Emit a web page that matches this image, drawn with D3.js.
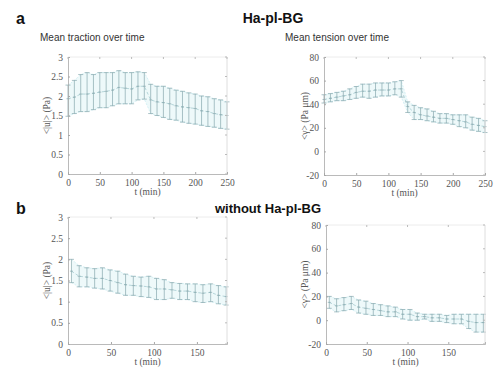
<!DOCTYPE html>
<html><head><meta charset="utf-8">
<script src="https://cdn.jsdelivr.net/npm/d3@7"></script>
<style>body{margin:0;background:#fff}svg{display:block}</style>
</head><body>
<script>
// ---- data ----
const tA = [0,10,20,30,40,50,60,70,80,90,100,110,120,130,140,150,160,170,180,190,200,210,220,230,240,250];
const tractionA_mean = [1.93,1.97,2.05,2.05,2.07,2.1,2.12,2.15,2.22,2.2,2.18,2.25,2.25,1.9,1.85,1.83,1.8,1.75,1.72,1.7,1.68,1.62,1.6,1.55,1.52,1.5];
const tractionA_up   = [2.28,2.4,2.55,2.6,2.55,2.6,2.6,2.6,2.65,2.6,2.6,2.62,2.6,2.3,2.25,2.25,2.2,2.15,2.12,2.08,2.05,2.0,1.98,1.93,1.9,1.85];
const tractionA_lo   = [1.48,1.55,1.6,1.6,1.65,1.7,1.7,1.75,1.8,1.8,1.8,1.9,1.92,1.55,1.5,1.45,1.4,1.38,1.33,1.3,1.28,1.25,1.22,1.2,1.17,1.15];
const tensionA_mean = [44,45,46,47,48,50,51,51,52,52,52,53,53,38,33,31,30,29,28,28,27,26,25,23,22,21];
const tensionA_up   = [48,49,50,51,53,55,57,57,58,58,58,59,60,42,39,37,36,34,32,32,31,31,31,29,28,26];
const tensionA_lo   = [41,42,43,43,44,45,46,45,46,47,47,48,46,33,27,27,26,25,24,24,23,21,20,18,17,16];

const tB = [4,13,22,31,40,49,58,67,76,85,94,103,112,121,130,139,148,157,166,175,184];
const tractionB_mean = [1.72,1.6,1.58,1.55,1.55,1.5,1.45,1.4,1.38,1.37,1.35,1.3,1.3,1.28,1.25,1.25,1.22,1.2,1.22,1.15,1.12];
const tractionB_up   = [2.0,1.85,1.8,1.78,1.8,1.75,1.72,1.65,1.6,1.58,1.6,1.55,1.52,1.45,1.43,1.42,1.42,1.4,1.42,1.38,1.35];
const tractionB_lo   = [1.45,1.35,1.35,1.32,1.3,1.25,1.2,1.15,1.15,1.12,1.1,1.05,1.05,1.08,1.05,1.05,1.0,0.98,1.0,0.95,0.92];
const tB2 = [4,13,22,31,40,49,58,67,76,85,94,103,112,121,130,139,148,157,166,175,184,193];
const tensionB_mean = [15,12,13,14,11,10,9,8,7,7,5,5,3,3,2,2,1,1,1,-1,-2,-2];
const tensionB_up   = [20,18,19,20,17,16,14,13,12,11,9,9,6,5,5,5,4,5,5,5,5,5];
const tensionB_lo   = [10,7,8,9,6,5,4,4,3,3,1,0,0,1,-1,-1,-2,-3,-3,-7,-10,-10];

const xTicksA = [0,50,100,150,200,250];
const xTicksB = [0,50,100,150];
const yTicksTraction = [0,0.5,1,1.5,2,2.5,3];
const yTicksTension = [-20,0,20,40,60,80];

// ---- drawing ----
const svg = d3.select("body").append("svg").attr("width",500).attr("height",377);

function panel(o){
  const g = svg.append("g");
  const x = d3.scaleLinear().domain(o.xdom).range([o.x0,o.x1]);
  const y = d3.scaleLinear().domain(o.ydom).range([o.y1,o.y0]);
  const pts = o.t.map((t,i)=>({t,m:o.m[i],u:o.u[i],l:o.l[i]}));
  // fill
  g.append("path").datum(pts)
    .attr("d", d3.area().x(d=>x(d.t)).y0(d=>y(d.l)).y1(d=>y(d.u)))
    .attr("fill","#eef9fa");
  // upper/lower lines
  ["u","l"].forEach(k=>{
    g.append("path").datum(pts)
     .attr("d", d3.line().x(d=>x(d.t)).y(d=>y(d[k])))
     .attr("fill","none").attr("stroke","#c6ebf0").attr("stroke-width",0.7).attr("stroke-dasharray","2,1.5");
  });
  // mean line
  g.append("path").datum(pts)
    .attr("d", d3.line().x(d=>x(d.t)).y(d=>y(d.m)))
    .attr("fill","none").attr("stroke","#9cc6cc").attr("stroke-width",0.7).attr("stroke-dasharray","3,2");
  // error bars
  const eb = g.append("g").attr("stroke","#86a8ad").attr("stroke-width",0.7);
  pts.forEach(d=>{
    const cx = x(d.t);
    eb.append("line").attr("x1",cx).attr("x2",cx).attr("y1",y(d.u)).attr("y2",y(d.l));
    eb.append("line").attr("x1",cx-2.5).attr("x2",cx+2.5).attr("y1",y(d.u)).attr("y2",y(d.u));
    eb.append("line").attr("x1",cx-2.5).attr("x2",cx+2.5).attr("y1",y(d.l)).attr("y2",y(d.l));
    eb.append("line").attr("x1",cx-1.5).attr("x2",cx+1.5).attr("y1",y(d.m)).attr("y2",y(d.m));
  });
  // box
  g.append("line").attr("x1",o.x0).attr("x2",o.x1).attr("y1",o.y0).attr("y2",o.y0).attr("stroke","#ececec");
  g.append("line").attr("x1",o.x1).attr("x2",o.x1).attr("y1",o.y0).attr("y2",o.y1).attr("stroke","#dedede");
  // axes
  const ax = g.append("g").attr("transform",`translate(0,${o.y1})`)
    .call(d3.axisBottom(x).tickValues(o.xticks).tickSize(-2).tickPadding(5).tickFormat(d3.format("d")));
  const ay = g.append("g").attr("transform",`translate(${o.x0},0)`)
    .call(d3.axisLeft(y).tickValues(o.yticks).tickSize(-2).tickPadding(5).tickFormat(d=>String(d)));
  [ax,ay].forEach(a=>{
    a.select(".domain").attr("stroke","#a8a8a8").attr("stroke-width",0.8);
    a.selectAll(".tick line").attr("stroke","#a8a8a8");
    a.selectAll("text").attr("font-family","Liberation Serif").attr("font-size",9.5).attr("fill","#555");
  });
  // top ticks
  o.xticks.forEach(t=>{
    g.append("line").attr("x1",x(t)).attr("x2",x(t)).attr("y1",o.y0).attr("y2",o.y0+2).attr("stroke","#bbb");
  });
  o.yticks.forEach(t=>{
    g.append("line").attr("x1",o.x1).attr("x2",o.x1-2).attr("y1",y(t)).attr("y2",y(t)).attr("stroke","#bbb");
  });
  // labels
  g.append("text").attr("x",(o.x0+o.x1)/2).attr("y",o.y1+21).attr("text-anchor","middle")
    .attr("font-family","Liberation Serif").attr("font-size",9.5).attr("fill","#555").text("t (min)");
  g.append("text").attr("transform",`translate(${o.ylx},${(o.y0+o.y1)/2}) rotate(-90)`)
    .attr("text-anchor","middle").attr("font-family","Liberation Serif").attr("font-size",9.5).attr("fill","#555").text(o.ylabel);
  if(o.title){
    g.append("text").attr("x",o.titleX).attr("y",41)
      .attr("font-family","Liberation Sans").attr("font-size",10).attr("fill","#333").text(o.title);
  }
}

panel({x0:68,x1:227,y0:57,y1:174,xdom:[0,250],ydom:[0,3],t:tA,m:tractionA_mean,u:tractionA_up,l:tractionA_lo,
  xticks:xTicksA,yticks:yTicksTraction,ylabel:"<|u|> (Pa)",ylx:50,title:"Mean traction over time",titleX:40});
panel({x0:324,x1:485,y0:57,y1:175,xdom:[0,250],ydom:[-20,80],t:tA,m:tensionA_mean,u:tensionA_up,l:tensionA_lo,
  xticks:xTicksA,yticks:yTicksTension,ylabel:"<γ> (Pa μm)",ylx:308,title:"Mean tension over time",titleX:285});
panel({x0:68,x1:227,y0:217,y1:344,xdom:[0,185],ydom:[0,3],t:tB,m:tractionB_mean,u:tractionB_up,l:tractionB_lo,
  xticks:xTicksB,yticks:yTicksTraction,ylabel:"<|u|> (Pa)",ylx:50});
panel({x0:326,x1:485,y0:225,y1:344,xdom:[0,195],ydom:[-20,80],t:tB2,m:tensionB_mean,u:tensionB_up,l:tensionB_lo,
  xticks:xTicksB,yticks:yTicksTension,ylabel:"<γ> (Pa μm)",ylx:308});

// panel letters and headings
svg.append("text").attr("x",16).attr("y",24).attr("font-family","Liberation Sans").attr("font-weight","bold").attr("font-size",16).attr("fill","#111").text("a");
svg.append("text").attr("x",16).attr("y",214).attr("font-family","Liberation Sans").attr("font-weight","bold").attr("font-size",16).attr("fill","#111").text("b");
svg.append("text").attr("x",273).attr("y",23).attr("text-anchor","middle").attr("font-family","Liberation Sans").attr("font-weight","bold").attr("font-size",14).attr("fill","#111").text("Ha-pl-BG");
svg.append("text").attr("x",268).attr("y",213).attr("text-anchor","middle").attr("font-family","Liberation Sans").attr("font-weight","bold").attr("font-size",13).attr("fill","#111").text("without Ha-pl-BG");
</script>
</body></html>
